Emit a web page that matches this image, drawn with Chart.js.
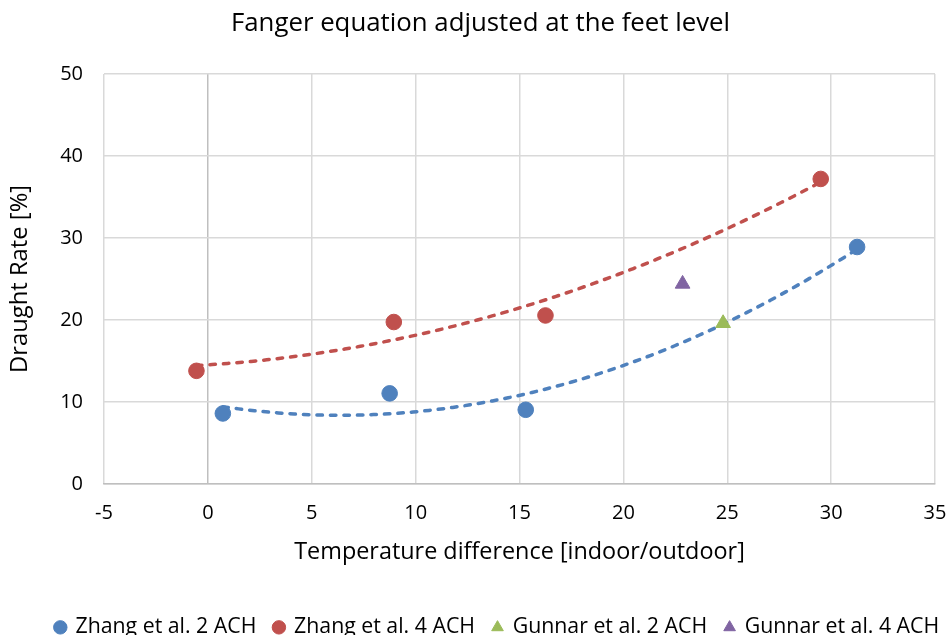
<!DOCTYPE html>
<html><head><meta charset="utf-8">
<script src="https://cdn.jsdelivr.net/npm/chart.js@4/dist/chart.umd.min.js"></script>
<style>html,body{margin:0;padding:0;background:#fff}#wrap{width:950px;height:635px}</style>
</head><body><div id="wrap"><canvas id="c" width="950" height="635"></canvas></div>
<script>
const zhang2X = [0.72, 8.75, 15.3, 31.25];
const zhang2Y = [8.6, 11.05, 9.05, 28.9];
const zhang4X = [-0.55, 8.95, 16.25, 29.5];
const zhang4Y = [13.8, 19.75, 20.55, 37.2];
const gunnar2X = [24.8];
const gunnar2Y = [19.6];
const gunnar4X = [22.85];
const gunnar4Y = [24.4];
const xTicks = [-5, 0, 5, 10, 15, 20, 25, 30, 35];
const yTicks = [0, 10, 20, 30, 40, 50];

const FONT = "'Open Sans', sans-serif";
const BLUE = '#4F81BD', RED = '#C0504D', GREEN = '#9BBB59', PURPLE = '#8064A2';

function pts(xs, ys){ return xs.map((x,i)=>({x, y: ys[i]})); }
// least-squares quadratic trendline (like Excel polynomial order 2)
function trend(xs, ys, n){
  let S=[0,0,0,0,0], T=[0,0,0];
  xs.forEach((x,i)=>{ for(let k=0;k<5;k++) S[k]+=Math.pow(x,k); for(let k=0;k<3;k++) T[k]+=ys[i]*Math.pow(x,k); });
  const A=[[S[0],S[1],S[2],T[0]],[S[1],S[2],S[3],T[1]],[S[2],S[3],S[4],T[2]]];
  for(let i=0;i<3;i++){ for(let j=i+1;j<3;j++){ const f=A[j][i]/A[i][i]; for(let k=i;k<4;k++) A[j][k]-=f*A[i][k]; } }
  const c=[0,0,0];
  for(let i=2;i>=0;i--){ let s=A[i][3]; for(let k=i+1;k<3;k++) s-=A[i][k]*c[k]; c[i]=s/A[i][i]; }
  const lo=Math.min(...xs), hi=Math.max(...xs), out=[];
  for(let i=0;i<=n;i++){ const x=lo+(hi-lo)*i/n; out.push({x, y:c[0]+c[1]*x+c[2]*x*x}); }
  return out;
}

const trendStyle = (col)=>({type:'line', borderColor: col, borderWidth: 3.5, borderDash:[5.5,8], borderCapStyle:'round', pointRadius:0, fill:false, tension:0, showLine:true, order:2});

// shift title and legend horizontally to match the reference placement
const shiftPlugin = {
  id: 'shiftBlocks',
  afterLayout(chart){
    if (chart.titleBlock){ chart.titleBlock.left += 13; chart.titleBlock.right += 13; }
    if (chart.legend){ chart.legend.left += 30; chart.legend.right += 30; }
  }
};

const PAD_BOTTOM = -13;
new Chart(document.getElementById('c'), {
  type: 'scatter',
  plugins: [shiftPlugin],
  data: { datasets: [
    Object.assign({label:'trend2', data: trend(zhang2X, zhang2Y, 80)}, trendStyle(BLUE)),
    Object.assign({label:'trend4', data: trend(zhang4X, zhang4Y, 80)}, trendStyle(RED)),
    {label:'Zhang et al. 2 ACH', data: pts(zhang2X, zhang2Y), backgroundColor: BLUE, borderColor: BLUE, pointStyle:'circle', pointRadius:7.8, order:1},
    {label:'Zhang et al. 4 ACH', data: pts(zhang4X, zhang4Y), backgroundColor: RED, borderColor: RED, pointStyle:'circle', pointRadius:7.8, order:1},
    {label:'Gunnar et al. 2 ACH', data: pts(gunnar2X, gunnar2Y), backgroundColor: GREEN, borderColor: GREEN, pointStyle:'triangle', pointRadius:8.5, order:1},
    {label:'Gunnar et al. 4 ACH', data: pts(gunnar4X, gunnar4Y), backgroundColor: PURPLE, borderColor: PURPLE, pointStyle:'triangle', pointRadius:8.5, order:1}
  ]},
  options: {
    responsive: false, animation: false, devicePixelRatio: 1,
    layout: { padding: { left: 0, right: 15, top: 0, bottom: PAD_BOTTOM } },
    plugins: {
      tooltip: {enabled:false},
      title: { display: true, text: 'Fanger equation adjusted at the feet level', color: '#000',
        font: { family: FONT, size: 25.8, weight: 'normal', lineHeight: 1.2 }, padding: { top: 8.5, bottom: 34.5 } },
      legend: { position: 'bottom', align: 'center',
        labels: { usePointStyle: true, boxWidth: 9, boxHeight: 9.5, color: '#000', padding: 18,
          font: { family: FONT, size: 21.3 },
          filter: (it)=> !it.text.startsWith('trend') } }
    },
    scales: {
      x: { type: 'linear', min: -5, max: 35,
        afterBuildTicks: s => { s.ticks = xTicks.map(v=>({value:v})); },
        afterFit: s => { s.height = s.chart.height - 484 - s.chart.legend.height - PAD_BOTTOM; s.paddingLeft = 0; s.paddingRight = 0; },
        grid: { color: c => c.tick && c.tick.value === 0 ? '#bfbfbf' : '#d9d9d9', lineWidth: 1.5, drawTicks: false },
        border: { display: true, color: '#bfbfbf', width: 1.5 },
        ticks: { color: '#000', font: { family: FONT, size: 20 }, padding: 17, maxRotation: 0 },
        title: { display: true, text: 'Temperature difference [indoor/outdoor]', color: '#000', font: { family: FONT, size: 23.4, lineHeight: 1.2 }, padding: { top: 0, bottom: 32 } }
      },
      y: { type: 'linear', min: 0, max: 50,
        afterBuildTicks: s => { s.ticks = yTicks.map(v=>({value:v})); },
        afterFit: s => { s.width = 104; },
        grid: { color: '#d9d9d9', lineWidth: 1.5, drawTicks: false },
        border: { display: false },
        ticks: { color: '#000', font: { family: FONT, size: 20 }, padding: 21 },
        title: { display: true, text: 'Draught Rate [%]', color: '#000', font: { family: FONT, size: 23.8, lineHeight: 1.2 }, padding: { top: 6, bottom: 0 } }
      }
    }
  }
});
</script></body></html>
